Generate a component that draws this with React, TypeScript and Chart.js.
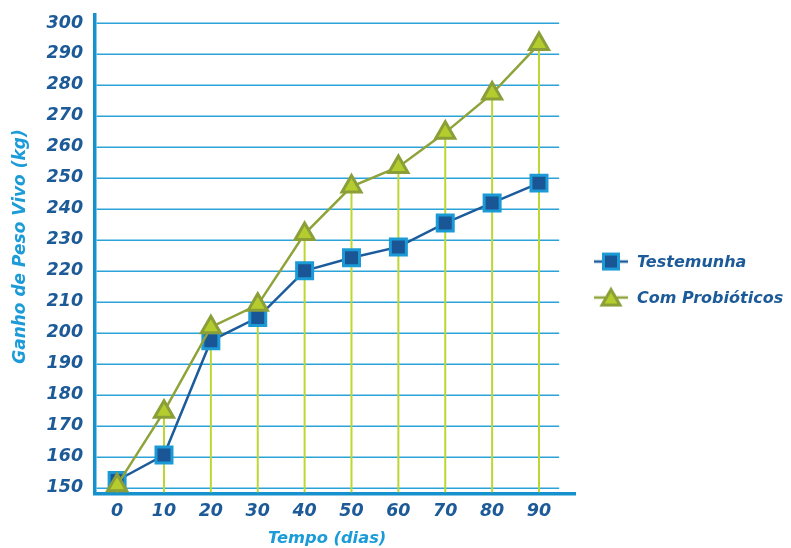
import React, { useEffect, useRef } from "react";
import { Chart, registerables } from "chart.js";

Chart.register(...registerables);

const dias = [0, 10, 20, 30, 40, 50, 60, 70, 80, 90];
const testemunha = [152.3, 160.5, 197.4, 204.9, 220.0, 224.2, 227.7, 235.4, 241.9, 248.3];
const comProbioticos = [150.8, 174.5, 201.8, 209.0, 231.9, 247.2, 253.5, 264.6, 277.2, 293.2];
const yTicks = [150, 160, 170, 180, 190, 200, 210, 220, 230, 240, 250, 260, 270, 280, 290, 300];
const seriesNames = ["Testemunha", "Com Probióticos"];
const xTitle = "Tempo (dias)";
const yTitle = "Ganho de Peso Vivo (kg)";

const C = {
  blueLine: "#1d5c9c",
  blueFill: "#1a5696",
  blueBorder: "#1c9ad6",
  greenLine: "#8ea33a",
  greenFill: "#b4cc2d",
  greenBorder: "#8a9f37",
  drop: "#bdd631",
  grid: "#2ba3d9",
  axis: "#1592cd",
  tick: "#1c5a98",
  title: "#1b9bd8",
};

const FONT = "'DejaVu Sans', sans-serif";

function makeMarker(kind: "square" | "triangle"): HTMLCanvasElement {
  const c = document.createElement("canvas");
  c.width = 34;
  c.height = 24;
  const g = c.getContext("2d")!;
  g.lineWidth = 2.5;
  g.strokeStyle = kind === "square" ? C.blueLine : C.greenLine;
  g.beginPath();
  g.moveTo(0, 12);
  g.lineTo(34, 12);
  g.stroke();
  if (kind === "square") {
    g.fillStyle = C.blueFill;
    g.fillRect(9.5, 4.5, 15, 15);
    g.lineWidth = 3;
    g.strokeStyle = C.blueBorder;
    g.strokeRect(9.5, 4.5, 15, 15);
  } else {
    g.beginPath();
    g.moveTo(17, 4);
    g.lineTo(26, 19.5);
    g.lineTo(8, 19.5);
    g.closePath();
    g.fillStyle = C.greenFill;
    g.fill();
    g.lineWidth = 3;
    g.strokeStyle = C.greenBorder;
    g.stroke();
  }
  return c;
}

const gridPlugin = {
  id: "customGrid",
  beforeDatasetsDraw(chart: any) {
    const { ctx, chartArea, scales } = chart;
    const x = scales.x;
    const y = scales.y;
    ctx.save();
    ctx.strokeStyle = C.grid;
    ctx.lineWidth = 1.5;
    const xEnd = x.getPixelForValue(94.3);
    y.ticks.forEach((t: any) => {
      const py = Math.round(y.getPixelForValue(t.value)) + 0.25;
      ctx.beginPath();
      ctx.moveTo(chartArea.left + 1.5, py);
      ctx.lineTo(xEnd, py);
      ctx.stroke();
    });
    const meta = chart.getDatasetMeta(1);
    ctx.strokeStyle = C.drop;
    ctx.lineWidth = 2;
    meta.data.forEach((pt: any) => {
      ctx.beginPath();
      ctx.moveTo(pt.x, pt.y);
      ctx.lineTo(pt.x, chartArea.bottom - 1.5);
      ctx.stroke();
    });
    ctx.restore();
  },
};

function makeDecorPlugin(markers: HTMLCanvasElement[]) {
  return {
    id: "sideLegendAndTitles",
    afterDraw(chart: any) {
      const { ctx, chartArea, scales } = chart;
      const x = scales.x;
      ctx.save();
      // legend
      const midY = (chartArea.top + chartArea.bottom) / 2 + 25.5;
      ctx.font = `italic bold 16px ${FONT}`;
      ctx.fillStyle = C.tick;
      ctx.textBaseline = "middle";
      ctx.textAlign = "left";
      seriesNames.forEach((name, i) => {
        const cy = midY + (i - 0.5) * 36;
        const mk = markers[i];
        ctx.drawImage(mk, chartArea.right + 19, cy - mk.height / 2);
        ctx.fillText(name, chartArea.right + 62, cy + 1);
      });
      // x title centred under the gridded area
      ctx.fillStyle = C.title;
      ctx.textAlign = "center";
      ctx.font = `italic bold 16.3px ${FONT}`;
      const xc = (chartArea.left + x.getPixelForValue(94.3)) / 2;
      ctx.fillText(xTitle, xc, chartArea.bottom + 45);
      // y title
      ctx.translate(chartArea.left - 75, (chartArea.top + chartArea.bottom) / 2 - 7.5);
      ctx.rotate(-Math.PI / 2);
      ctx.font = `italic bold 17px ${FONT}`;
      ctx.fillText(yTitle, 0, 0);
      ctx.restore();
    },
  };
}

export default function App() {
  const ref = useRef<HTMLCanvasElement | null>(null);

  useEffect(() => {
    if (!ref.current) return;
    const markers = [makeMarker("square"), makeMarker("triangle")];
    const chart = new Chart(ref.current, {
      type: "line",
      data: {
        datasets: [
          {
            label: seriesNames[0],
            data: dias.map((d, i) => ({ x: d, y: testemunha[i] })),
            borderColor: C.blueLine,
            borderWidth: 2.5,
            pointStyle: "rect",
            pointRadius: 11.3,
            pointBorderWidth: 3,
            pointBackgroundColor: C.blueFill,
            pointBorderColor: C.blueBorder,
            tension: 0,
            order: 1,
          },
          {
            label: seriesNames[1],
            data: dias.map((d, i) => ({ x: d, y: comProbioticos[i] })),
            borderColor: C.greenLine,
            borderWidth: 2.5,
            pointStyle: "triangle",
            pointRadius: 11,
            pointBorderWidth: 3,
            pointBackgroundColor: C.greenFill,
            pointBorderColor: C.greenBorder,
            tension: 0,
            order: 0,
          },
        ],
      },
      options: {
        animation: false,
        responsive: false,
        layout: { padding: { top: 12, left: 34.6, right: 216, bottom: 18.2 } },
        plugins: {
          tooltip: { enabled: false },
          legend: { display: false },
        },
        scales: {
          x: {
            type: "linear",
            min: -4.69,
            max: 97.68,
            grid: { display: false, drawTicks: false },
            border: { display: true, color: C.axis, width: 3.5 },
            afterBuildTicks: (scale: any) => {
              scale.ticks = dias.map((v) => ({ value: v }));
            },
            ticks: {
              padding: 7.5,
              color: C.tick,
              autoSkip: false,
              maxRotation: 0,
              font: { family: FONT, size: 17.5, weight: "bold", style: "italic" },
            },
            title: { display: false, text: xTitle },
          },
          y: {
            type: "linear",
            min: 148,
            max: 302.8,
            grid: { display: false, drawTicks: false },
            border: { display: true, color: C.axis, width: 3.5 },
            afterBuildTicks: (scale: any) => {
              scale.ticks = yTicks.map((v) => ({ value: v }));
            },
            afterFit: (scale: any) => {
              scale.paddingTop = 0;
              scale.paddingBottom = 0;
            },
            ticks: {
              padding: 12,
              color: C.tick,
              autoSkip: false,
              font: { family: FONT, size: 17.5, weight: "bold", style: "italic" },
            },
            title: { display: false, text: yTitle },
          },
        },
      },
      plugins: [gridPlugin, makeDecorPlugin(markers)],
    } as any);
    return () => chart.destroy();
  }, []);

  return (
    <div style={{ position: "absolute", left: 0, top: 0, width: 791, height: 548, background: "#fff" }}>
      <canvas ref={ref} width={791} height={548} style={{ display: "block" }} />
    </div>
  );
}
